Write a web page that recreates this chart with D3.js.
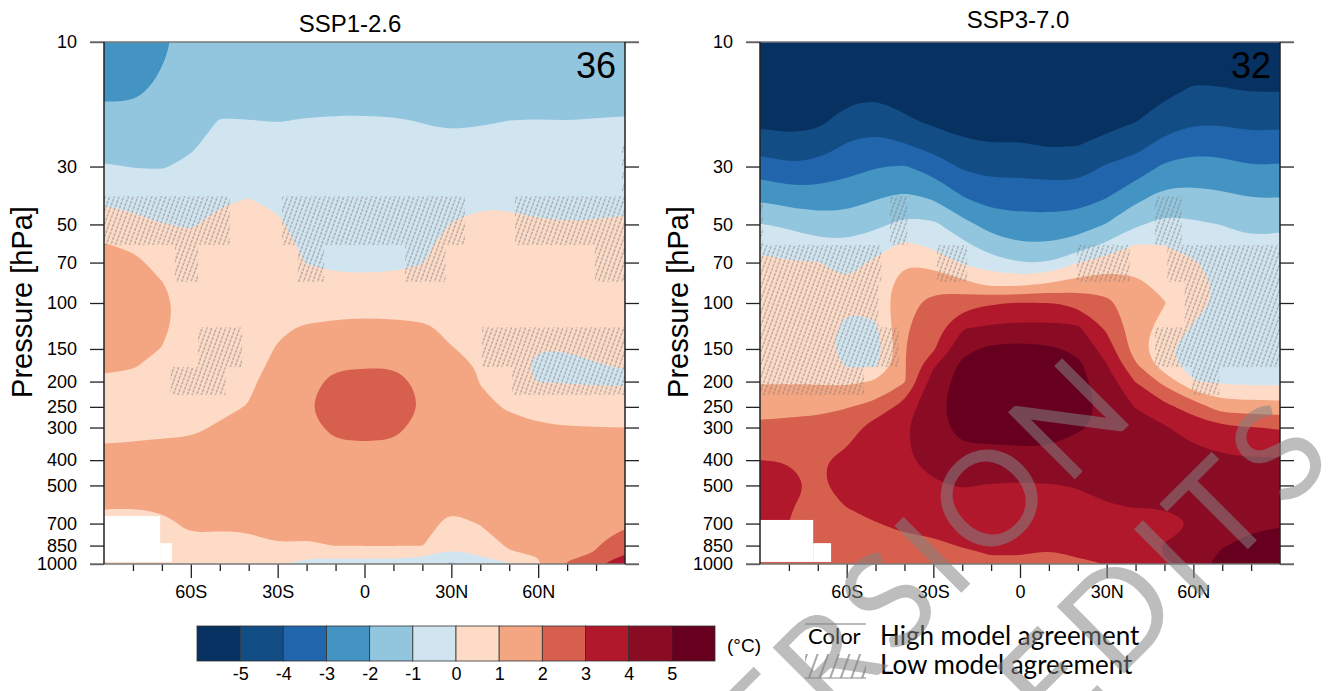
<!DOCTYPE html>
<html>
<head>
<meta charset="utf-8">
<script src="https://cdn.jsdelivr.net/npm/d3@7"></script>
<style>
  html, body { margin: 0; padding: 0; background: #fff; overflow: hidden; }
  text { font-family: "Liberation Sans", Arial, sans-serif; fill: #000; }
</style>
</head>
<body>
<div id="chart"></div>
<script>
// grid the temperature change was read on
var lats = [-90, -80, -70, -60, -50, -40, -30, -20, -10, 0, 10, 20, 30, 40, 50, 60, 70, 80, 90];
var levels = [10, 15, 20, 25, 30, 40, 50, 60, 70, 85, 100, 125, 150, 175, 200, 250, 300, 400, 500, 600, 700, 850, 925, 1000];

var thresholds = [-5, -4, -3, -2, -1, 0, 1, 2, 3, 4, 5];
var bandColors = ["#063161", "#134d85", "#2166ac", "#4393c3", "#92c5de", "#d1e5f0", "#fddbc7", "#f4a582", "#d6604d", "#b2182b", "#8a0c24", "#67001f"];

var pressureTicks = [10, 30, 50, 70, 100, 150, 200, 250, 300, 400, 500, 700, 850, 1000];
var latMajor = [-60, -30, 0, 30, 60];
var latMajorLabels = ["60S", "30S", "0", "30N", "60N"];
var latMinor = [-80, -70, -50, -40, -20, -10, 10, 20, 40, 50, 70, 80];

// one row per latitude, one value per pressure level (deg C)
var ssp126 = [
  [-2.8, -2.2, -1.72, -1.3, -0.93, -0.15, 0.5, 1.05, 1.3, 1.6, 1.7, 1.5, 1.3, 1.1, 0.9, 0.75, 0.85, 1.15, 1.4, 1.05, 0.8, 0.7, 0.6, 0.5],
  [-2.8, -2.2, -1.72, -1.34, -1.03, -0.33, 0.28, 0.86, 1.2, 1.6, 1.7, 1.5, 1.25, 1.02, 0.9, 0.7, 0.85, 1.2, 1.4, 1.03, 0.8, 0.7, 0.6, 0.5],
  [-2.2, -1.85, -1.5, -1.25, -1.05, -0.5, 0.02, 0.4, 0.73, 1.05, 1.25, 1.15, 0.98, 0.9, 0.9, 0.85, 0.9, 1.2, 1.4, 1.1, 0.85, 0.7, 0.7, 0.8],
  [-1.6, -1.5, -1.35, -1.1, -0.85, -0.4, -0.05, 0.15, 0.3, 0.45, 0.55, 0.6, 0.65, 0.7, 0.75, 0.8, 0.92, 1.2, 1.4, 1.3, 1.12, 0.85, 0.7, 0.6],
  [-1.8, -1.35, -0.97, -0.7, -0.45, -0.07, 0.15, 0.3, 0.4, 0.5, 0.55, 0.6, 0.65, 0.7, 0.78, 0.9, 1.05, 1.3, 1.5, 1.35, 1.1, 0.8, 0.7, 0.6],
  [-1.8, -1.35, -0.99, -0.65, -0.4, 0.01, 0.2, 0.35, 0.45, 0.55, 0.6, 0.65, 0.7, 0.8, 0.9, 1.02, 1.15, 1.35, 1.5, 1.3, 1.1, 0.85, 0.7, 0.6],
  [-1.8, -1.35, -1.02, -0.75, -0.5, -0.12, 0.1, 0.25, 0.38, 0.55, 0.7, 0.9, 1.05, 1.15, 1.25, 1.35, 1.4, 1.5, 1.5, 1.35, 1.2, 0.98, 0.6, 0.1],
  [-1.8, -1.33, -0.97, -0.8, -0.67, -0.43, -0.28, -0.14, -0.03, 0.3, 0.65, 1.08, 1.3, 1.5, 1.7, 1.92, 1.85, 1.7, 1.6, 1.4, 1.25, 0.9, 0.2, -0.3],
  [-1.85, -1.35, -0.94, -0.8, -0.7, -0.5, -0.33, -0.2, -0.1, 0.13, 0.6, 1.2, 1.6, 1.9, 2.25, 2.5, 2.12, 1.8, 1.6, 1.4, 1.2, 1.03, 0.2, -0.3],
  [-1.85, -1.35, -0.94, -0.8, -0.7, -0.5, -0.33, -0.2, -0.1, 0.12, 0.65, 1.25, 1.62, 1.95, 2.3, 2.55, 2.15, 1.8, 1.6, 1.4, 1.2, 1.03, 0.2, -0.3],
  [-1.85, -1.35, -0.96, -0.8, -0.7, -0.5, -0.33, -0.2, -0.1, 0.15, 0.63, 1.2, 1.62, 1.97, 2.3, 2.45, 2.12, 1.8, 1.6, 1.4, 1.2, 1.03, 0.2, -0.3],
  [-1.85, -1.4, -1.02, -0.85, -0.72, -0.48, -0.3, -0.14, -0.03, 0.35, 0.7, 1.1, 1.4, 1.6, 1.8, 1.95, 1.85, 1.7, 1.6, 1.4, 1.2, 1.03, 0.1, -0.4],
  [-1.85, -1.5, -1.15, -0.75, -0.55, -0.2, 0.02, 0.25, 0.4, 0.55, 0.7, 0.88, 1.02, 1.2, 1.35, 1.55, 1.6, 1.5, 1.3, 1.08, 0.85, 0.3, -0.4, -1.2],
  [-1.75, -1.4, -1.07, -0.75, -0.5, -0.1, 0.15, 0.3, 0.42, 0.55, 0.65, 0.8, 0.9, 0.95, 0.98, 1.1, 1.25, 1.5, 1.4, 1.2, 1.03, 0.35, 0.03, -0.2],
  [-1.75, -1.4, -1, -0.72, -0.5, -0.1, 0.12, 0.25, 0.35, 0.45, 0.55, 0.65, 0.6, 0.3, 0.4, 0.95, 1.15, 1.4, 1.5, 1.5, 1.4, 1.15, 0.85, -0.1],
  [-1.75, -1.4, -0.98, -0.7, -0.5, -0.15, 0.05, 0.2, 0.3, 0.35, 0.3, 0.15, 0.01, -0.15, -0.02, 0.7, 1.1, 1.4, 1.5, 1.5, 1.4, 1.2, 1.05, 0.9],
  [-1.75, -1.4, -1, -0.7, -0.5, -0.2, 0.03, 0.18, 0.25, 0.3, 0.2, 0.1, 0.03, -0.15, -0.05, 0.6, 1.03, 1.4, 1.6, 1.7, 1.75, 1.8, 1.9, 2.05],
  [-1.75, -1.35, -0.97, -0.72, -0.5, -0.2, 0.05, 0.18, 0.22, 0.25, 0.2, 0.12, 0.06, -0.02, -0.1, 0.55, 1.02, 1.4, 1.6, 1.75, 1.85, 1.95, 2.05, 2.95],
  [-1.75, -1.33, -0.95, -0.72, -0.5, -0.17, 0.1, 0.2, 0.25, 0.25, 0.2, 0.12, 0.06, 0.02, -0.1, 0.5, 1, 1.4, 1.6, 1.75, 1.92, 2.6, 3.05, 3.2]
];

var ssp370 = [
  [-6.5, -5.8, -5.25, -4.4, -3.5, -2.1, -0.95, -0.1, 0.1, 0.25, 0.4, 0.6, 0.75, 0.85, 0.93, 1.55, 2.25, 3, 3.3, 3.2, 3.1, 3, 3, 3],
  [-6.5, -5.8, -5.35, -4.65, -3.85, -2.4, -1.2, -0.35, 0.05, 0.2, 0.4, 0.6, 0.75, 0.85, 0.92, 1.7, 2.3, 2.98, 3.25, 3.1, 3, 2.8, 2.7, 2.7],
  [-6.5, -5.8, -5.25, -4.5, -3.7, -2.45, -1.5, -0.7, 0.05, 0.2, 0.4, 0.6, 0.7, 0.8, 0.9, 1.75, 2.35, 2.9, 2.85, 2.5, 2.4, 2.3, 2.2, 2.1],
  [-6.3, -5.5, -4.6, -3.9, -3.35, -2.4, -1.5, -0.8, -0.35, 0.1, 0.15, -0.25, -0.6, -0.05, 0.8, 1.95, 2.5, 3.25, 3.4, 3.03, 2.7, 2.5, 2.4, 2.3],
  [-6.3, -5.3, -4.4, -3.65, -3.05, -2.03, -1.2, -0.45, 0.2, 0.3, 0.25, -0.15, -0.6, -0.05, 1.1, 2.3, 3.5, 3.6, 3.5, 3.3, 2.97, 2.6, 2.5, 2.4],
  [-6.1, -5.5, -4.85, -3.9, -2.95, -1.7, -0.75, 0.2, 0.95, 1.5, 1.8, 1.9, 1.95, 1.9, 1.9, 3.4, 3.9, 3.9, 3.8, 3.5, 3.15, 2.8, 2.6, 2.4],
  [-6, -5.6, -5.2, -4.35, -3.4, -2.05, -0.8, -0.2, 0.65, 1.8, 2.2, 2.5, 2.85, 3.9, 4.5, 4.8, 4.7, 4.3, 3.9, 3.6, 3.25, 2.85, 2.7, 2.5],
  [-6, -5.7, -5.4, -4.8, -4.13, -2.9, -1.65, -0.75, -0.1, 1.35, 2.6, 3.95, 4.75, 5.25, 5.35, 5.3, 5.25, 4.75, 4.05, 3.7, 3.4, 3.05, 2.8, 2.6],
  [-6, -5.7, -5.45, -4.95, -4.35, -3.35, -2.4, -1.5, -0.6, 0.8, 2.9, 4.2, 5.2, 5.4, 5.5, 5.5, 5.3, 4.7, 3.95, 3.65, 3.4, 3.1, 3, 2.7],
  [-6, -5.7, -5.45, -4.9, -4.3, -3.4, -2.6, -1.9, -1, 0.85, 3.05, 4.3, 5.3, 5.5, 5.6, 5.6, 5.4, 4.7, 3.9, 3.65, 3.4, 3.15, 3, 2.7],
  [-6, -5.7, -5.45, -5.05, -4.4, -3.45, -2.6, -1.9, -1, 1.15, 3, 4.3, 5.15, 5.45, 5.55, 5.5, 5.4, 4.7, 3.95, 3.65, 3.4, 3.1, 2.9, 2.7],
  [-6, -5.7, -5.45, -5, -4.45, -3.4, -2.5, -1.55, -0.02, 1.45, 2.8, 4.2, 4.8, 5.25, 5.3, 5.3, 5.1, 4.5, 4.05, 3.7, 3.5, 3.2, 3.05, 2.9],
  [-6, -5.7, -5.3, -4.7, -3.9, -2.97, -1.95, -0.8, 0.5, 1.6, 2.25, 2.85, 3.55, 4.1, 4.5, 4.8, 4.8, 4.4, 4.25, 3.95, 3.7, 3.35, 3.15, 3],
  [-6, -5.4, -5.05, -4.3, -3.6, -2.2, -1.15, 0.05, 0.7, 1.2, 1.4, 1.5, 1.5, 2.2, 2.97, 3.95, 4.5, 4.6, 4.4, 4.03, 3.8, 3.5, 3.3, 3.2],
  [-5.8, -5.3, -4.5, -3.65, -2.85, -1.6, -0.7, 0, 0.3, 0.75, 1.05, 0.6, 0.15, 0.5, 1.7, 3.25, 4.1, 4.5, 4.4, 4.05, 3.7, 4.05, 4.03, 3.7],
  [-5.6, -4.95, -4.15, -3.3, -2.65, -1.6, -0.85, -0.35, 0.1, 0.25, 0.15, -0.05, -0.5, -0.4, 0.05, 2.6, 3.5, 4.45, 4.5, 4.3, 4, 4.3, 4.4, 4.6],
  [-5.65, -4.98, -4.15, -3.35, -2.7, -1.75, -1.02, -0.6, -0.4, -0.15, -0.1, -0.3, -0.4, -0.4, -0.15, 1.5, 3.2, 4.2, 4.4, 4.5, 4.7, 4.95, 5.15, 5.3],
  [-5.65, -5.1, -4.3, -3.6, -2.97, -1.97, -1.25, -0.8, -0.6, -0.5, -0.45, -0.45, -0.5, -0.45, -0.25, 1.5, 3.05, 4.1, 4.35, 4.6, 4.85, 5.2, 5.4, 5.5],
  [-5.65, -5.1, -4.25, -3.5, -2.9, -1.95, -1.15, -0.75, -0.6, -0.5, -0.45, -0.45, -0.5, -0.45, -0.25, 1.4, 2.9, 4.1, 4.4, 4.65, 4.95, 5.3, 5.4, 5.5]
];

// low agreement boxes: lat west, lat east, pressure top, pressure bottom
var hatch126 = [
  [89, 90, 25, 39],
  [-90, -46.5, 39, 60], [-28.5, 34.7, 39, 60], [52, 90, 39, 60],
  [-65.5, -57.5, 60, 83], [-23, -14, 60, 83], [14, 28, 60, 83], [79.6, 90, 60, 83],
  [-57.5, -42.3, 124, 176], [40.6, 90, 124, 176],
  [-67, -48, 176, 225], [51, 90, 176, 225]
];
var hatch370 = [
  [-90, -89, 39, 60], [-45, -39, 39, 60], [46.7, 56, 39, 60],
  [-90, -48, 60, 83], [-28.7, -18.3, 60, 83], [19.7, 38, 60, 83], [51, 90, 60, 83],
  [-90, -49, 83, 124], [57, 90, 83, 124],
  [-90, -42, 124, 176], [46.7, 90, 124, 176],
  [-90, -54, 176, 225], [59.5, 69, 176, 225]
];

// below the ground, no data
var missing126 = [[-90, -70.6, 655, 982], [-70.6, -66.5, 832, 982]];
var missing370 = [[-90, -71.6, 678, 982], [-71.6, -65.4, 832, 982]];

var width = 1333, height = 691;

var svg = d3.select("#chart").append("svg")
    .attr("width", width)
    .attr("height", height)
    .style("display", "block");

var defs = svg.append("defs");

var pattern = defs.append("pattern")
    .attr("id", "hatch")
    .attr("patternUnits", "userSpaceOnUse")
    .attr("width", 4.4)
    .attr("height", 32)
    .attr("patternTransform", "rotate(20)");
pattern.append("line")
    .attr("x1", 1).attr("x2", 1)
    .attr("y1", 0).attr("y2", 32)
    .attr("stroke", "#777")
    .attr("stroke-width", 0.8)
    .attr("stroke-dasharray", "3 1");

var legendPattern = defs.append("pattern")
    .attr("id", "hatchWide")
    .attr("patternUnits", "userSpaceOnUse")
    .attr("width", 10)
    .attr("height", 40)
    .attr("patternTransform", "rotate(20)");
legendPattern.append("line")
    .attr("x1", 2).attr("x2", 2)
    .attr("y1", 0).attr("y2", 40)
    .attr("stroke", "#777")
    .attr("stroke-width", 1.3);

function drawPanel(opt) {
    var w = opt.x1 - opt.x0, h = 522;

    var x = d3.scaleLinear().domain([-90, 90]).range([0, w]);
    var y = d3.scaleLog().domain([10, 1000]).range([0, h]);

    var g = svg.append("g").attr("transform", "translate(" + opt.x0 + ",42)");

    defs.append("clipPath").attr("id", opt.id)
        .append("rect").attr("width", w).attr("height", h);

    var plot = g.append("g").attr("clip-path", "url(#" + opt.id + ")");

    // edge columns and rows are repeated once so contours run past the frame
    var nx = lats.length + 2, ny = levels.length + 2;
    var values = new Array(nx * ny);
    for (var j = 0; j < ny; j++) {
        for (var i = 0; i < nx; i++) {
            var ci = Math.min(lats.length - 1, Math.max(0, i - 1));
            var cj = Math.min(levels.length - 1, Math.max(0, j - 1));
            values[j * nx + i] = opt.grid[ci][cj];
        }
    }

    var colToLat = d3.scaleLinear().domain(lats.map(function(d, k) { return k + 1.5; })).range(lats);
    var rowToY = d3.scaleLinear().domain(levels.map(function(d, k) { return k + 1.5; })).range(levels.map(y));

    var ringPath = d3.line()
        .x(function(d) { return x(colToLat(d[0])); })
        .y(function(d) { return rowToY(d[1]); })
        .curve(d3.curveBasisClosed);

    plot.append("rect").attr("width", w).attr("height", h).attr("fill", bandColors[0]);

    var contours = d3.contours().size([nx, ny]).thresholds(thresholds)(values);

    plot.selectAll("path.band")
        .data(contours)
        .enter().append("path")
        .attr("class", "band")
        .attr("fill", function(d, k) { return bandColors[k + 1]; })
        .attr("fill-rule", "evenodd")
        .attr("d", function(d) {
            var out = "";
            d.coordinates.forEach(function(poly) {
                poly.forEach(function(ring) { out += ringPath(ring.slice(0, -1)); });
            });
            return out;
        });

    plot.selectAll("rect.lowAgreement")
        .data(opt.hatch)
        .enter().append("rect")
        .attr("class", "lowAgreement")
        .attr("x", function(d) { return x(d[0]); })
        .attr("width", function(d) { return x(d[1]) - x(d[0]); })
        .attr("y", function(d) { return y(d[2]); })
        .attr("height", function(d) { return y(d[3]) - y(d[2]); })
        .attr("fill", "url(#hatch)");

    plot.selectAll("rect.missing")
        .data(opt.missing)
        .enter().append("rect")
        .attr("class", "missing")
        .attr("x", function(d) { return x(d[0]); })
        .attr("width", function(d) { return x(d[1]) - x(d[0]); })
        .attr("y", function(d) { return y(d[2]); })
        .attr("height", function(d) { return y(d[3]) - y(d[2]); })
        .attr("fill", "#fff");

    // axes
    var left = g.append("g").call(d3.axisLeft(y)
        .tickValues(pressureTicks).tickFormat(d3.format("d"))
        .tickSize(14).tickPadding(13));
    var right = g.append("g").attr("transform", "translate(" + w + ",0)").call(d3.axisRight(y)
        .tickValues(pressureTicks).tickFormat("").tickSize(14));
    var bottom = g.append("g").attr("transform", "translate(0," + h + ")").call(d3.axisBottom(x)
        .tickValues(latMajor)
        .tickFormat(function(d, k) { return latMajorLabels[k]; })
        .tickSize(14).tickPadding(7));
    var bottomMinor = g.append("g").attr("transform", "translate(0," + h + ")").call(d3.axisBottom(x)
        .tickValues(latMinor).tickFormat("").tickSize(7));

    [left, right, bottom, bottomMinor].forEach(function(a) {
        a.select(".domain").remove();
        a.selectAll("line").attr("stroke", "#222").attr("stroke-width", 1.3);
        a.selectAll("text").style("font-size", "18px").style("font-family", "Liberation Sans");
    });

    g.append("line").attr("x1", -14).attr("x2", w + 14).attr("y1", 0).attr("y2", 0)
        .attr("stroke", "#777").attr("stroke-width", 1.5);
    g.append("line").attr("x1", -14).attr("x2", w + 14).attr("y1", h).attr("y2", h)
        .attr("stroke", "#777").attr("stroke-width", 1.5);
    g.append("line").attr("x1", 0).attr("x2", 0).attr("y1", 0).attr("y2", h)
        .attr("stroke", "#222").attr("stroke-width", 1.5);
    g.append("line").attr("x1", w).attr("x2", w).attr("y1", 0).attr("y2", h)
        .attr("stroke", "#222").attr("stroke-width", 1.5);

    svg.append("text")
        .attr("x", opt.titleX).attr("y", opt.titleY)
        .attr("text-anchor", "middle")
        .style("font-size", "24px")
        .text(opt.title);

    g.append("text")
        .attr("x", w - 9).attr("y", 36)
        .attr("text-anchor", "end")
        .style("font-size", "36px")
        .text(opt.count);

    g.append("text")
        .attr("transform", "translate(" + (-72) + "," + (h / 2 - 1) + ") rotate(-90)")
        .attr("text-anchor", "middle")
        .style("font-size", "29px")
        .text("Pressure [hPa]");
}

drawPanel({ id: "clip126", x0: 104, x1: 625, grid: ssp126, hatch: hatch126, missing: missing126,
    title: "SSP1-2.6", titleX: 350, titleY: 32, count: "36" });
drawPanel({ id: "clip370", x0: 760, x1: 1280, grid: ssp370, hatch: hatch370, missing: missing370,
    title: "SSP3-7.0", titleX: 1018, titleY: 28, count: "32" });

// colour bar
var barX = d3.scaleLinear().domain([-6, 6]).range([197, 715]);
var barCells = d3.range(12);

svg.selectAll("rect.bar")
    .data(barCells)
    .enter().append("rect")
    .attr("class", "bar")
    .attr("x", function(d) { return barX(d - 6); })
    .attr("width", function(d) { return barX(d - 5) - barX(d - 6); })
    .attr("y", 626)
    .attr("height", 35)
    .attr("fill", function(d) { return bandColors[d]; })
    .attr("stroke", "#333")
    .attr("stroke-width", 0.8);

var barAxis = svg.append("g").attr("transform", "translate(0,661)")
    .call(d3.axisBottom(barX).tickValues(thresholds).tickSize(0).tickPadding(6)
        .tickFormat(function(d) { return String(d); }));
barAxis.select(".domain").remove();
barAxis.selectAll("text").style("font-size", "18px").style("font-family", "Liberation Sans");

svg.append("text").attr("x", 727).attr("y", 652).style("font-size", "19px").text("(°C)");

// agreement key
svg.append("line").attr("x1", 805).attr("x2", 866).attr("y1", 624).attr("y2", 624)
    .attr("stroke", "#777").attr("stroke-width", 1);
svg.append("text").attr("x", 808).attr("y", 644)
    .style("font-family", "Lato").style("font-size", "22px").text("Color");
svg.append("rect").attr("x", 805).attr("y", 654).attr("width", 61).attr("height", 24)
    .attr("fill", "url(#hatchWide)");
svg.append("line").attr("x1", 805).attr("x2", 866).attr("y1", 678).attr("y2", 678)
    .attr("stroke", "#888").attr("stroke-width", 1);

svg.append("text").attr("x", 880).attr("y", 645)
    .style("font-family", "Lato").style("font-size", "26px").text("High model agreement");
svg.append("text").attr("x", 880).attr("y", 674)
    .style("font-family", "Lato").style("font-size", "26px").text("Low model agreement");

// draft stamp across the figure
var stampLines = [
    { text: "ACCEPTED VERSION", x: 1144, y: 410 },
    { text: "SUBJECT TO FINAL EDITS", x: 1343, y: 454 }
];
svg.selectAll("text.stamp")
    .data(stampLines)
    .enter().append("text")
    .attr("class", "stamp")
    .attr("transform", function(d) { return "translate(" + d.x + "," + d.y + ") rotate(-45)"; })
    .attr("text-anchor", "end")
    .style("font-family", "Lato")
    .style("font-size", "132px")
    .style("letter-spacing", "9px")
    .style("fill", "#848484")
    .style("opacity", 0.53)
    .text(function(d) { return d.text; });
</script>
</body>
</html>
